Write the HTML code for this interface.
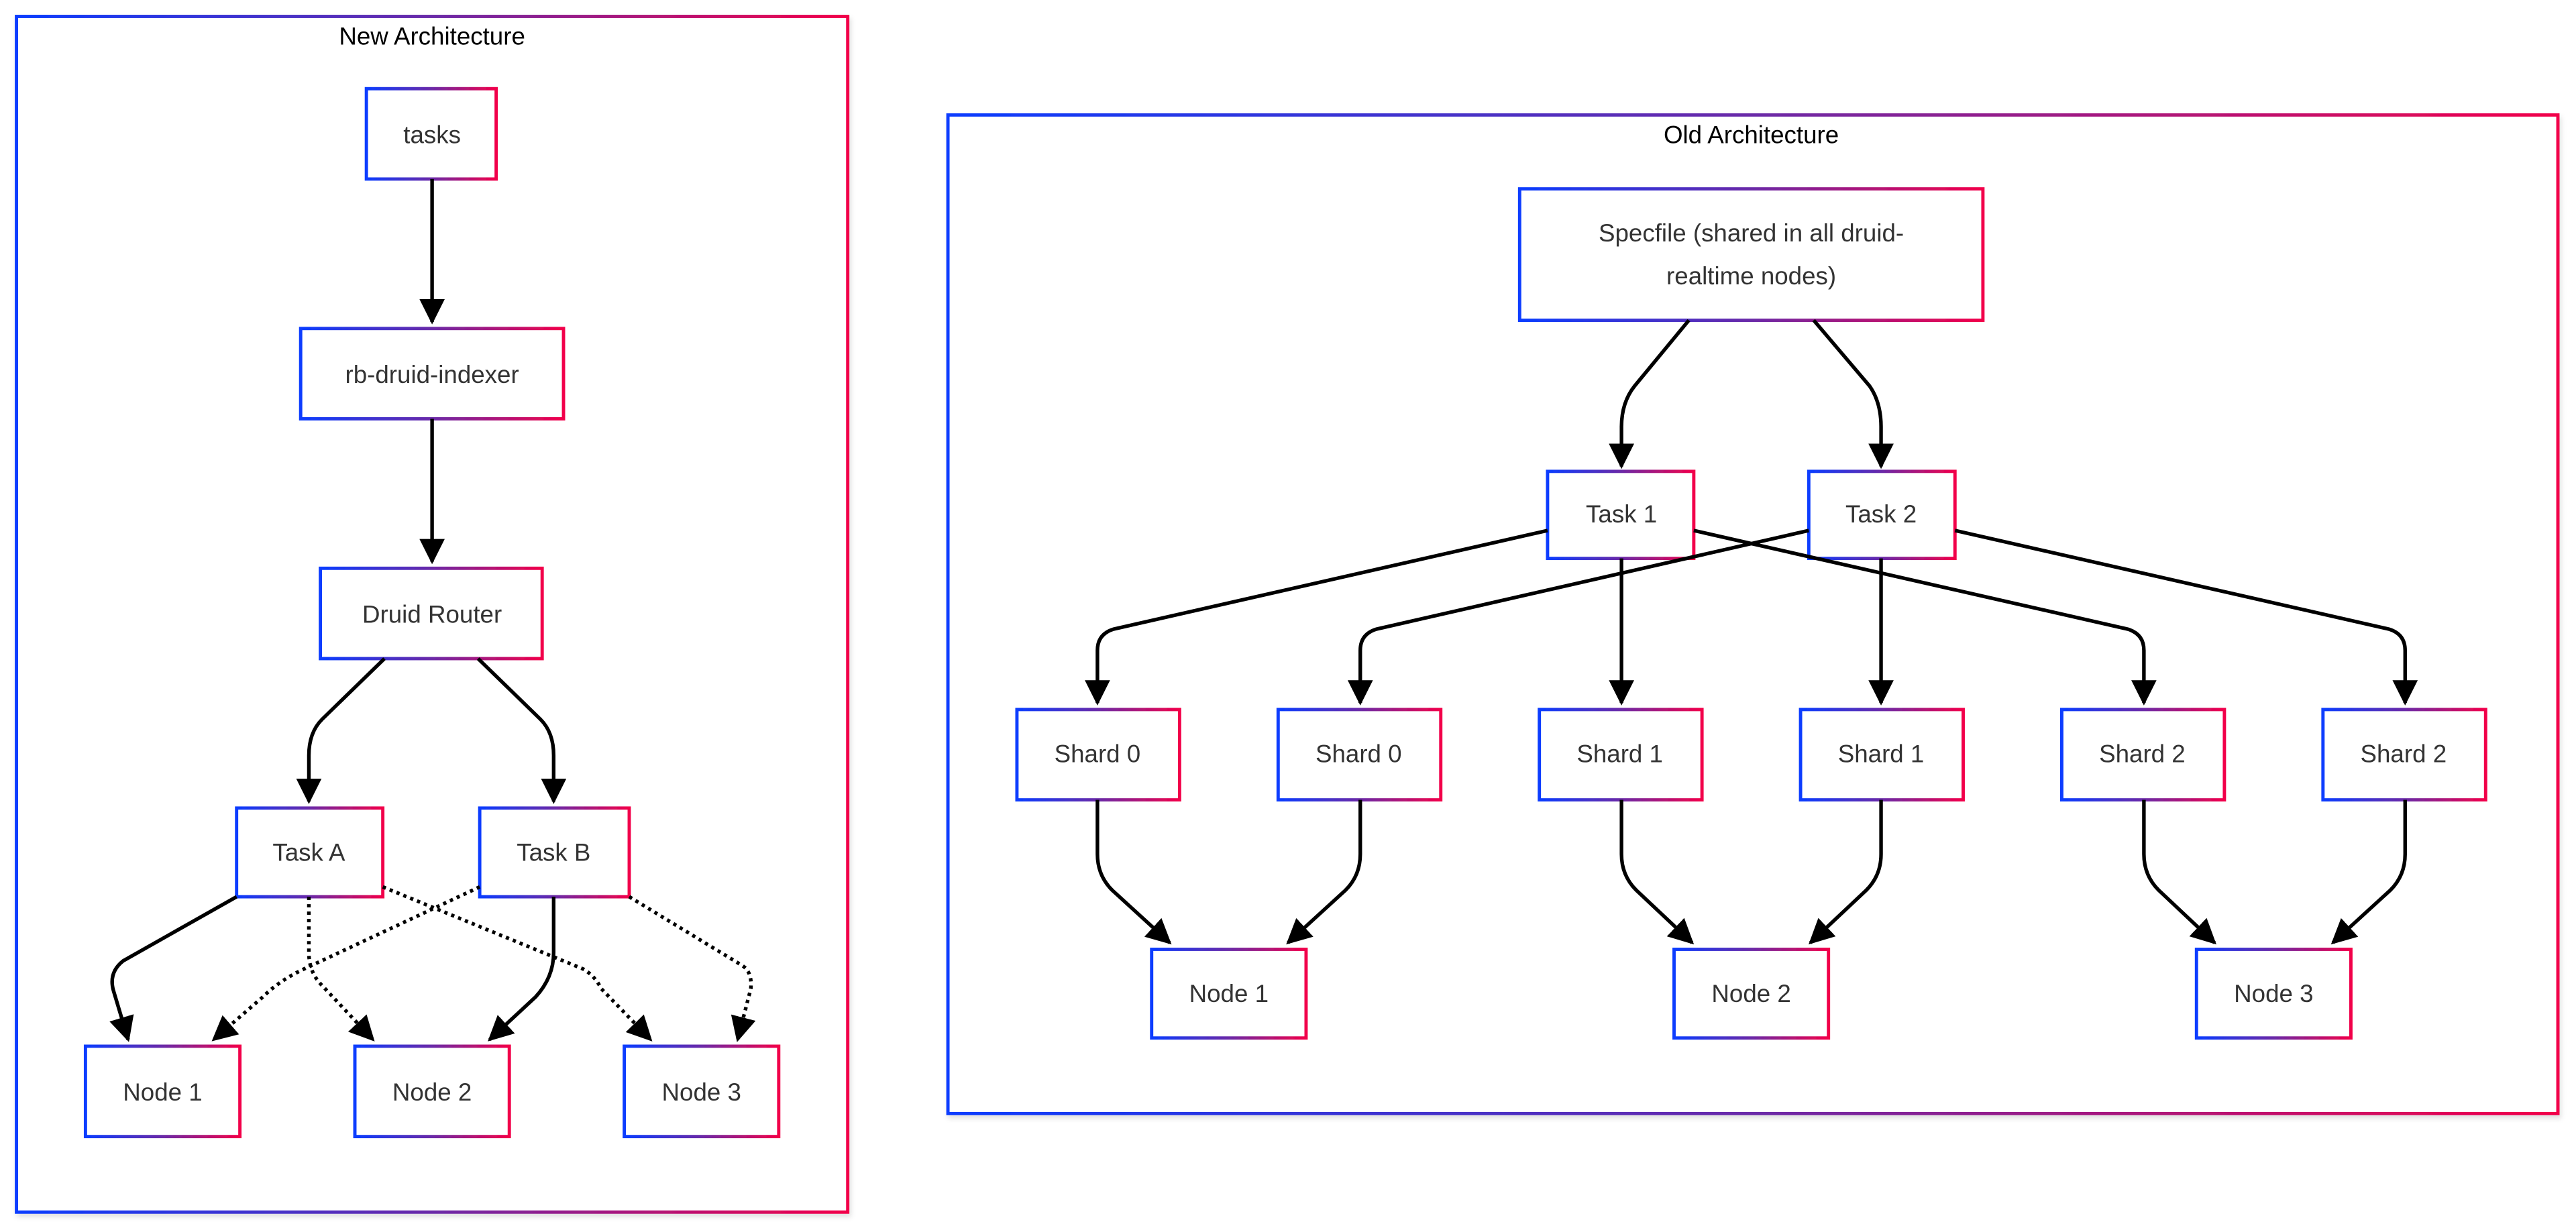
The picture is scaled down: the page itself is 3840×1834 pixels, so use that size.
<!DOCTYPE html>
<html><head><meta charset="utf-8"><style>html,body{margin:0;padding:0;background:#fff}svg{display:block}</style></head>
<body>
<svg width="3840" height="1834" viewBox="0 0 1568 748.9" xmlns="http://www.w3.org/2000/svg" font-family="Liberation Sans, Arial, sans-serif">
<defs>
<linearGradient id="g" x1="0" y1="0" x2="1" y2="0"><stop offset="0" stop-color="#0a3cff"/><stop offset="0.5" stop-color="#6a2aa8"/><stop offset="1" stop-color="#f2004a"/></linearGradient>
<marker id="a" viewBox="0 0 10 10" refX="9" refY="5" markerWidth="7" markerHeight="7" orient="auto-start-reverse" markerUnits="strokeWidth"><path d="M0,0L10,5L0,10z" fill="#000"/></marker>
<filter id="s" x="-10%" y="-10%" width="130%" height="130%"><feDropShadow dx="1" dy="2" stdDeviation="1.5" flood-color="#000" flood-opacity="0.12"/></filter>
</defs>
<g fill="#fff" stroke="url(#g)" stroke-width="2" filter="url(#s)">
<rect x="10" y="10" width="506" height="728"/>
<rect x="577" y="70" width="980" height="608"/>
<rect x="223" y="54" width="79" height="55"/>
<rect x="183" y="200" width="160" height="55"/>
<rect x="195" y="346" width="135" height="55"/>
<rect x="144" y="492" width="89" height="54"/>
<rect x="292" y="492" width="91" height="54"/>
<rect x="52" y="637" width="94" height="55"/>
<rect x="216" y="637" width="94" height="55"/>
<rect x="380" y="637" width="94" height="55"/>
<rect x="925" y="115" width="282" height="80"/>
<rect x="942" y="287" width="89" height="53"/>
<rect x="1101" y="287" width="89" height="53"/>
<rect x="619" y="432" width="99" height="55"/>
<rect x="778" y="432" width="99" height="55"/>
<rect x="937" y="432" width="99" height="55"/>
<rect x="1096" y="432" width="99" height="55"/>
<rect x="1255" y="432" width="99" height="55"/>
<rect x="1414" y="432" width="99" height="55"/>
<rect x="701" y="578" width="94" height="54"/>
<rect x="1019" y="578" width="94" height="54"/>
<rect x="1337" y="578" width="94" height="54"/>
</g>
<g fill="none" stroke="#000" stroke-width="2.2" marker-end="url(#a)">
<path d="M263,109V196"/>
<path d="M263,255V342"/>
<path d="M234,401L196,438Q188,446 188,460V488"/>
<path d="M291,401L329,438Q337,446 337,460V488"/>
<path d="M144,546L75,585Q66,592 69,603L78,633"/>
<path d="M337,546V580Q337,595 326,607L298,633"/>
<g stroke-dasharray="2,2.5">
<path d="M188,546V580Q188,592 196,600L227,633"/>
<path d="M233,540L355,590Q362,594 366,602L396,633"/>
<path d="M292,540L185,590Q170,597 160,607L130,633"/>
<path d="M383,546L452,588Q458,592 457,602L449,633"/>
</g>
<path d="M1028,195L995,235Q987,245 987,260V284"/>
<path d="M1104,195L1138,235Q1145,245 1145,260V284"/>
<path d="M942,323L678,383Q668,386 668,396V428"/>
<path d="M1101,323L838,383Q828,386 828,396V428"/>
<path d="M987,340V428"/>
<path d="M1145,340V428"/>
<path d="M1031,323L1295,383Q1305,386 1305,396V428"/>
<path d="M1190,323L1454,383Q1464,386 1464,396V428"/>
<path d="M668,487V520Q668,533 677,542L712,574"/>
<path d="M828,487V520Q828,533 819,542L784,574"/>
<path d="M987,487V520Q987,533 996,542L1030,574"/>
<path d="M1145,487V520Q1145,533 1136,542L1102,574"/>
<path d="M1305,487V520Q1305,533 1314,542L1348,574"/>
<path d="M1464,487V520Q1464,533 1455,542L1420,574"/>
</g>
<g font-size="15" fill="#333" text-anchor="middle" dominant-baseline="central">
<text x="263" y="82">tasks</text>
<text x="263" y="228">rb-druid-indexer</text>
<text x="263" y="374">Druid Router</text>
<text x="188" y="519">Task A</text>
<text x="337" y="519">Task B</text>
<text x="99" y="665">Node 1</text>
<text x="263" y="665">Node 2</text>
<text x="427" y="665">Node 3</text>
<text x="1066" y="142">Specfile (shared in all druid-</text>
<text x="1066" y="168">realtime nodes)</text>
<text x="987" y="313">Task 1</text>
<text x="1145" y="313">Task 2</text>
<text x="668" y="459">Shard 0</text>
<text x="827" y="459">Shard 0</text>
<text x="986" y="459">Shard 1</text>
<text x="1145" y="459">Shard 1</text>
<text x="1304" y="459">Shard 2</text>
<text x="1463" y="459">Shard 2</text>
<text x="748" y="605">Node 1</text>
<text x="1066" y="605">Node 2</text>
<text x="1384" y="605">Node 3</text>
</g>
<g font-size="15" fill="#000" text-anchor="middle" dominant-baseline="central">
<text x="263" y="22">New Architecture</text>
<text x="1066" y="82">Old Architecture</text>
</g>
</svg>
</body></html>
